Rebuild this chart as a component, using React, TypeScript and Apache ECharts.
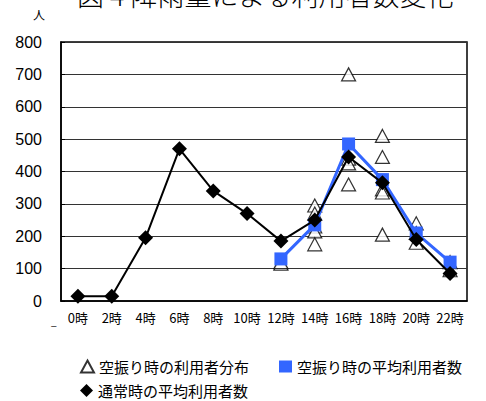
import React, { useEffect, useRef } from "react";
import * as echarts from "echarts";

// Hour categories along the x axis
const hours = ["0時", "2時", "4時", "6時", "8時", "10時", "12時", "14時", "16時", "18時", "20時", "22時"];

// Average riders on a normal day
const normalAvg = [15, 15, 195, 470, 340, 270, 185, 250, 445, 365, 190, 85];

// Average riders when the forecast rain did not come (only from 12時)
const rainAvg: (number | null)[] = [null, null, null, null, null, null, 130, 235, 485, 375, 210, 120];

// Individual observations on those days, per hour
const rainSamples: Record<string, number[]> = {
  "12時": [115, 120],
  "14時": [295, 270, 230, 215, 175],
  "16時": [700, 440, 425, 360],
  "18時": [510, 445, 345, 335, 205],
  "20時": [240, 210, 180],
  "22時": [120, 95],
};

const yTicks = { min: 0, max: 800, interval: 100 };

const SERIES_DIST = "空振り時の利用者分布";
const SERIES_RAIN = "空振り時の平均利用者数";
const SERIES_NORMAL = "通常時の平均利用者数";

const JP = "'Noto Sans CJK JP', sans-serif";

export default function App() {
  const ref = useRef<HTMLDivElement>(null);

  useEffect(() => {
    if (!ref.current) return;
    const chart = echarts.init(ref.current, null, { renderer: "svg" });

    const scatterData: [number, number][] = [];
    Object.keys(rainSamples).forEach((h) => {
      const idx = hours.indexOf(h);
      rainSamples[h].forEach((v) => scatterData.push([idx, v]));
    });

    chart.setOption({
      animation: false,
      backgroundColor: "#fff",
      title: {
        text: "図 4 降雨量による利用者数変化",
        left: 72,
        top: -24,
        textStyle: { fontFamily: JP, fontSize: 27, fontWeight: 300, color: "#000" },
      },
      graphic: [
        {
          type: "text",
          left: 33,
          top: 8,
          style: { text: "人", fontFamily: JP, fontSize: 12, fill: "#000" },
        },
        {
          type: "text",
          left: 51,
          top: 315,
          style: { text: "_", fontFamily: JP, fontSize: 10, fill: "#000" },
        },
      ],
      legend: [
        {
          left: 80,
          top: 359,
          padding: 0,
          itemWidth: 13,
          itemHeight: 12,
          itemGap: 30,
          textStyle: { fontFamily: JP, fontSize: 15, color: "#000" },
          data: [
            { name: SERIES_DIST, icon: "triangle" },
            { name: SERIES_RAIN, icon: "rect" },
          ],
        },
        {
          left: 80,
          top: 383,
          padding: 0,
          itemWidth: 13,
          itemHeight: 13,
          textStyle: { fontFamily: JP, fontSize: 15, color: "#000" },
          data: [{ name: SERIES_NORMAL, icon: "diamond" }],
        },
      ],
      grid: {
        left: 61,
        right: 19,
        top: 42,
        bottom: 100,
        show: true,
        borderColor: "#000",
        borderWidth: 1.5,
      },
      xAxis: {
        type: "category",
        data: hours,
        boundaryGap: true,
        axisLine: { lineStyle: { color: "#000", width: 1.5 } },
        axisTick: { inside: true, length: 5, lineStyle: { color: "#000" } },
        axisLabel: {
          color: "#000",
          fontFamily: JP,
          fontSize: 13,
          margin: 10,
          interval: 0,
        },
      },
      yAxis: {
        type: "value",
        min: yTicks.min,
        max: yTicks.max,
        interval: yTicks.interval,
        axisLine: { show: true, lineStyle: { color: "#000", width: 1.5 } },
        axisTick: { show: true, inside: true, length: 4, lineStyle: { color: "#000" } },
        axisLabel: {
          color: "#000",
          fontFamily: "'Liberation Sans', Arial, sans-serif",
          fontSize: 16,
          margin: 19,
        },
        splitLine: { show: true, lineStyle: { color: "#333", width: 1 } },
      },
      series: [
        {
          name: SERIES_DIST,
          type: "scatter",
          data: scatterData,
          symbol: "triangle",
          symbolSize: [14, 13],
          itemStyle: { color: "#fff", borderColor: "#000", borderWidth: 1.2 },
          z: 1,
        },
        {
          name: SERIES_RAIN,
          type: "line",
          data: rainAvg,
          symbol: "rect",
          symbolSize: 13,
          showSymbol: true,
          lineStyle: { color: "#3366ff", width: 3 },
          itemStyle: { color: "#3366ff" },
          z: 2,
        },
        {
          name: SERIES_NORMAL,
          type: "line",
          data: normalAvg,
          symbol: "diamond",
          symbolSize: 15,
          lineStyle: { color: "#000", width: 2 },
          itemStyle: { color: "#000" },
          z: 3,
        },
      ],
    });

    return () => chart.dispose();
  }, []);

  return (
    <div
      ref={ref}
      style={{ position: "fixed", left: 0, top: 0, width: 486, height: 401 }}
    />
  );
}
